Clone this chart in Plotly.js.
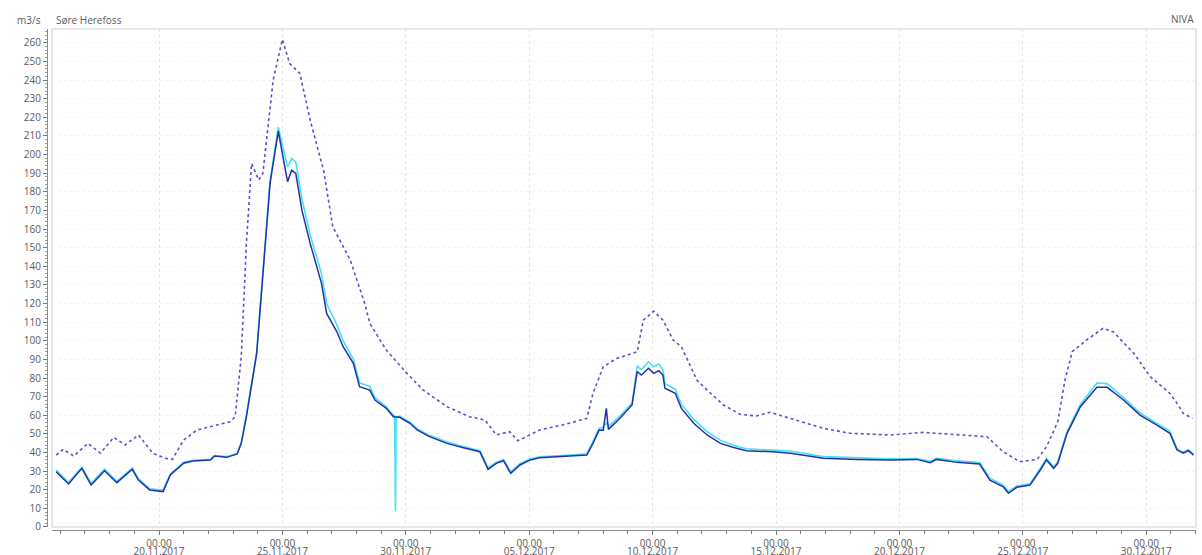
<!DOCTYPE html>
<html>
<head>
<meta charset="utf-8">
<script src="https://cdn.plot.ly/plotly-3.0.1.min.js"></script>
<style>html,body{margin:0;padding:0;background:#fff;}#chart{width:1202px;height:555px;}</style>
</head>
<body>
<div id="chart"></div>
<script>
// Upper dotted series
const dottedTimes = ['2017-11-15 20:00','2017-11-16 03:00','2017-11-16 13:00','2017-11-17 03:00','2017-11-17 15:00','2017-11-18 04:00','2017-11-18 15:00','2017-11-19 04:00','2017-11-19 18:00','2017-11-20 06:00','2017-11-20 13:00','2017-11-21 00:00','2017-11-21 13:00','2017-11-22 05:00','2017-11-22 21:00','2017-11-23 02:00','2017-11-23 08:00','2017-11-23 13:00','2017-11-23 18:00','2017-11-24 01:00','2017-11-24 05:00','2017-11-24 15:00','2017-11-25 00:00','2017-11-25 07:00','2017-11-25 14:00','2017-11-25 17:00','2017-11-26 03:00','2017-11-26 16:00','2017-11-27 01:00','2017-11-27 18:00','2017-11-28 08:00','2017-11-28 13:00','2017-11-29 05:00','2017-11-30 01:00','2017-11-30 17:00','2017-12-01 16:00','2017-12-02 14:00','2017-12-03 05:00','2017-12-03 16:00','2017-12-04 05:00','2017-12-04 13:00','2017-12-05 10:00','2017-12-06 10:00','2017-12-07 08:00','2017-12-07 14:00','2017-12-08 00:00','2017-12-08 13:00','2017-12-09 09:00','2017-12-09 15:00','2017-12-10 01:00','2017-12-10 10:00','2017-12-10 20:00','2017-12-11 04:00','2017-12-11 19:00','2017-12-12 05:00','2017-12-12 21:00','2017-12-13 13:00','2017-12-14 05:00','2017-12-14 18:00','2017-12-15 14:00','2017-12-16 22:00','2017-12-18 00:00','2017-12-19 15:00','2017-12-20 23:00','2017-12-22 08:00','2017-12-23 13:00','2017-12-24 05:00','2017-12-24 21:00','2017-12-25 14:00','2017-12-25 23:00','2017-12-26 10:00','2017-12-26 17:00','2017-12-27 00:00','2017-12-27 14:00','2017-12-28 06:00','2017-12-28 16:00','2017-12-29 12:00','2017-12-30 04:00','2017-12-30 23:00','2017-12-31 06:00','2017-12-31 12:00','2017-12-31 21:00'];
const dottedVals = [38.6,41.7,38.1,44.9,39.6,48.1,44.0,49.4,39.6,36.9,36.3,46.7,52.1,54.2,56.5,59.2,91.4,152.3,195.2,186.3,189.9,239.9,261.8,248.9,245.3,243.5,218.5,191.6,161.2,143.3,120.1,109.3,95.0,82.5,73.5,64.6,59.2,57.4,49.4,51.2,46.3,52.1,55.0,58.3,71.8,86.0,90.5,94.1,111.1,115.9,111.1,100.4,96.8,78.9,73.5,65.5,60.5,59.6,61.6,58.3,53.0,50.3,49.4,50.8,49.4,48.5,40.4,35.1,36.3,43.1,56.5,78.9,94.1,100.4,106.7,104.8,93.2,80.7,71.8,66.4,61.0,58.3];

// Dark blue series
const darkTimes = ['2017-11-15 20:00','2017-11-16 08:00','2017-11-16 21:00','2017-11-17 06:00','2017-11-17 19:00','2017-11-18 07:00','2017-11-18 22:00','2017-11-19 04:00','2017-11-19 15:00','2017-11-20 04:00','2017-11-20 11:00','2017-11-21 00:00','2017-11-21 09:00','2017-11-22 02:00','2017-11-22 06:00','2017-11-22 18:00','2017-11-23 04:00','2017-11-23 08:00','2017-11-23 13:00','2017-11-23 23:00','2017-11-24 12:00','2017-11-24 20:00','2017-11-25 05:00','2017-11-25 09:00','2017-11-25 13:00','2017-11-25 19:00','2017-11-26 03:00','2017-11-26 14:00','2017-11-26 19:00','2017-11-27 05:00','2017-11-27 11:00','2017-11-27 21:00','2017-11-28 03:00','2017-11-28 13:00','2017-11-28 18:00','2017-11-29 05:00','2017-11-29 12:00','2017-11-29 18:00','2017-11-30 04:00','2017-11-30 11:00','2017-11-30 23:00','2017-12-01 16:00','2017-12-02 08:00','2017-12-03 00:00','2017-12-03 08:00','2017-12-03 16:00','2017-12-03 23:00','2017-12-04 06:00','2017-12-04 15:00','2017-12-05 01:00','2017-12-05 10:00','2017-12-06 08:00','2017-12-07 08:00','2017-12-07 14:00','2017-12-07 20:00','2017-12-08 00:00','2017-12-08 03:00','2017-12-08 05:00','2017-12-08 16:00','2017-12-09 04:00','2017-12-09 09:00','2017-12-09 13:00','2017-12-09 20:00','2017-12-10 01:00','2017-12-10 06:00','2017-12-10 10:00','2017-12-10 12:00','2017-12-10 22:00','2017-12-11 04:00','2017-12-11 16:00','2017-12-12 05:00','2017-12-12 18:00','2017-12-13 06:00','2017-12-13 19:00','2017-12-14 21:00','2017-12-15 14:00','2017-12-16 22:00','2017-12-18 07:00','2017-12-19 15:00','2017-12-20 17:00','2017-12-21 06:00','2017-12-21 12:00','2017-12-22 08:00','2017-12-23 06:00','2017-12-23 16:00','2017-12-24 05:00','2017-12-24 10:00','2017-12-24 18:00','2017-12-25 07:00','2017-12-25 17:00','2017-12-25 23:00','2017-12-26 06:00','2017-12-26 10:00','2017-12-26 19:00','2017-12-27 08:00','2017-12-28 00:00','2017-12-28 10:00','2017-12-29 02:00','2017-12-29 18:00','2017-12-30 10:00','2017-12-30 23:00','2017-12-31 06:00','2017-12-31 12:00','2017-12-31 17:00','2017-12-31 22:00'];
const darkVals = [29.7,23.1,31.5,22.5,30.2,23.8,31.0,25.2,19.9,19.0,27.9,34.2,35.4,36.0,38.1,37.4,39.2,44.9,59.2,93.2,184.5,212.5,185.4,191.6,189.9,170.0,152.3,130.8,114.7,104.8,96.8,87.9,75.3,73.5,68.2,63.7,59.2,58.9,55.7,52.1,48.5,44.9,42.6,40.4,31.0,34.2,35.6,28.8,33.3,36.0,37.2,37.8,38.6,44.9,52.1,52.0,63.7,52.4,58.3,65.5,83.4,81.6,85.2,82.5,83.9,81.6,74.5,71.8,63.7,55.7,49.4,44.9,42.8,41.0,40.4,39.6,36.9,36.3,36.0,36.3,34.5,36.3,34.7,33.8,25.2,21.6,18.1,21.3,22.5,30.6,36.0,31.5,34.2,50.3,64.6,75.0,75.0,68.2,60.1,54.8,50.3,41.3,39.6,41.0,38.6];

// Cyan series
const cyanTimes = ['2017-11-15 20:00','2017-11-16 08:00','2017-11-16 21:00','2017-11-17 06:00','2017-11-17 19:00','2017-11-18 07:00','2017-11-18 22:00','2017-11-19 04:00','2017-11-19 15:00','2017-11-20 04:00','2017-11-20 11:00','2017-11-21 00:00','2017-11-21 09:00','2017-11-22 02:00','2017-11-22 06:00','2017-11-22 18:00','2017-11-23 04:00','2017-11-23 08:00','2017-11-23 13:00','2017-11-23 23:00','2017-11-24 12:00','2017-11-24 20:00','2017-11-25 05:00','2017-11-25 09:00','2017-11-25 13:00','2017-11-25 19:00','2017-11-26 03:00','2017-11-26 14:00','2017-11-26 19:00','2017-11-27 05:00','2017-11-27 11:00','2017-11-27 21:00','2017-11-28 03:00','2017-11-28 13:00','2017-11-28 18:00','2017-11-29 05:00','2017-11-29 12:00','2017-11-29 13:00','2017-11-29 13:30','2017-11-29 14:00','2017-11-29 14:30','2017-11-29 18:00','2017-11-30 04:00','2017-11-30 11:00','2017-11-30 23:00','2017-12-01 16:00','2017-12-02 08:00','2017-12-03 00:00','2017-12-03 08:00','2017-12-03 16:00','2017-12-03 23:00','2017-12-04 06:00','2017-12-04 15:00','2017-12-05 01:00','2017-12-05 10:00','2017-12-06 08:00','2017-12-07 08:00','2017-12-07 14:00','2017-12-07 20:00','2017-12-08 00:00','2017-12-08 03:00','2017-12-08 05:00','2017-12-08 16:00','2017-12-09 04:00','2017-12-09 09:00','2017-12-09 13:00','2017-12-09 20:00','2017-12-10 01:00','2017-12-10 06:00','2017-12-10 10:00','2017-12-10 12:00','2017-12-10 22:00','2017-12-11 04:00','2017-12-11 16:00','2017-12-12 05:00','2017-12-12 18:00','2017-12-13 06:00','2017-12-13 19:00','2017-12-14 21:00','2017-12-15 14:00','2017-12-16 22:00','2017-12-18 07:00','2017-12-19 15:00','2017-12-20 17:00','2017-12-21 06:00','2017-12-21 12:00','2017-12-22 08:00','2017-12-23 06:00','2017-12-23 16:00','2017-12-24 05:00','2017-12-24 10:00','2017-12-24 18:00','2017-12-25 07:00','2017-12-25 17:00','2017-12-25 23:00','2017-12-26 06:00','2017-12-26 10:00','2017-12-26 19:00','2017-12-27 08:00','2017-12-28 00:00','2017-12-28 10:00','2017-12-29 02:00','2017-12-29 18:00','2017-12-30 10:00','2017-12-30 23:00','2017-12-31 06:00','2017-12-31 12:00','2017-12-31 17:00','2017-12-31 22:00'];
const cyanVals = [30.5,24.0,32.0,23.5,31.0,24.5,31.5,26.0,20.5,19.8,28.5,34.8,35.8,36.3,38.3,37.8,39.5,45.5,60.0,94.0,186.0,214.7,193.4,197.9,196.0,176.0,157.0,136.0,120.0,108.5,100.0,90.0,77.5,75.5,69.5,64.5,60.0,59.8,35.0,8.5,59.0,59.5,56.3,52.8,49.2,45.6,43.2,41.0,31.8,34.8,36.2,29.6,34.0,36.6,37.7,38.3,39.2,45.8,53.0,53.5,56.0,54.0,59.5,66.5,86.5,84.5,88.7,86.0,87.5,84.5,77.0,74.0,65.8,57.8,51.2,46.5,44.0,42.0,41.5,40.8,37.8,37.0,36.6,36.8,35.3,36.9,35.5,34.6,26.2,22.5,19.0,22.0,23.2,31.5,36.8,32.3,35.0,51.2,65.8,77.3,77.0,69.5,61.2,55.8,51.5,42.0,40.2,41.6,39.0];

const unitLabel = 'm3/s';
const stationLabel = 'Søre Herefoss';
const sourceLabel = 'NIVA';

const xRange = ['2017-11-15 16:00', '2018-01-01 00:24'];
const yRange = [0, 267.4];
const FONT = 'Open Sans, Noto Sans, sans-serif';
const TXT = '#5a5a5a';

const traces = [
  {x: dottedTimes, y: dottedVals, type: 'scatter', mode: 'lines',
   line: {color: '#5b52c9', width: 1.6, dash: 'dot'}},
  {x: cyanTimes, y: cyanVals, type: 'scatter', mode: 'lines',
   line: {color: '#45e3ef', width: 1.6}},
  {x: darkTimes, y: darkVals, type: 'scatter', mode: 'lines',
   line: {color: '#2431a8', width: 1.5}},
  // empty trace so the date-label axis is drawn
  {x: xRange, y: [null, null], xaxis: 'x2', yaxis: 'y', type: 'scatter', mode: 'lines', showlegend: false}
];

const layout = {
  width: 1202, height: 555,
  margin: {l: 47, r: 6, t: 29, b: 25, pad: 0},
  paper_bgcolor: '#ffffff', plot_bgcolor: '#ffffff',
  showlegend: false,
  font: {family: FONT, size: 10, color: TXT},
  xaxis: {
    type: 'date', range: xRange, domain: [0.0044, 1],
    anchor: 'free', position: 0,
    tick0: '2017-11-20', dtick: 5 * 86400000,
    tickformat: '%H.%M',
    ticks: 'outside', ticklen: 4, tickcolor: '#777', tickwidth: 1,
    tickfont: {family: FONT, size: 10, color: TXT},
    showline: true, linecolor: '#8a8a8a', linewidth: 1,
    showgrid: true, gridcolor: '#e3e3e3', griddash: 'dot', gridwidth: 1,
    zeroline: false,
    minor: {dtick: 86400000, tick0: '2017-11-20', ticks: 'outside', ticklen: 3, tickcolor: '#777', showgrid: false}
  },
  xaxis2: {
    type: 'date', range: xRange, domain: [0.0044, 1], overlaying: 'x',
    anchor: 'free', position: 0, side: 'bottom',
    tick0: '2017-11-20', dtick: 5 * 86400000,
    tickformat: '%d.%m.%Y',
    ticks: 'outside', ticklen: 12, tickcolor: 'rgba(0,0,0,0)',
    tickfont: {family: FONT, size: 10, color: TXT},
    showline: false, showgrid: false, zeroline: false
  },
  yaxis: {
    range: yRange, domain: [0.006, 1],
    anchor: 'free', position: 0,
    tick0: 0, dtick: 10,
    ticks: 'outside', ticklen: 4, tickcolor: '#777',
    tickfont: {family: FONT, size: 10, color: TXT},
    showline: true, linecolor: '#8a8a8a', linewidth: 1,
    showgrid: true, gridcolor: '#f3f3f3', griddash: 'dot',
    zeroline: false,
    minor: {dtick: 2, ticks: 'outside', ticklen: 2, tickcolor: '#999', showgrid: false}
  },
  shapes: [
    {type: 'rect', xref: 'x domain', yref: 'y domain', x0: 0, x1: 1, y0: 0, y1: 1,
     line: {color: '#cfcfcf', width: 1}, fillcolor: 'rgba(0,0,0,0)', layer: 'above'}
  ],
  annotations: [
    {text: unitLabel, xref: 'paper', yref: 'paper', x: -0.028, y: 1, yshift: 9,
     xanchor: 'left', yanchor: 'middle', showarrow: false,
     font: {family: FONT, size: 10, color: TXT}},
    {text: stationLabel, xref: 'paper', yref: 'paper', x: 0.0065, y: 1, yshift: 9,
     xanchor: 'left', yanchor: 'middle', showarrow: false,
     font: {family: FONT, size: 10, color: TXT}},
    {text: sourceLabel, xref: 'paper', yref: 'paper', x: 1, y: 1, yshift: 10,
     xanchor: 'right', yanchor: 'middle', showarrow: false,
     font: {family: FONT, size: 10, color: TXT}}
  ]
};

Plotly.newPlot('chart', traces, layout, {displayModeBar: false, staticPlot: true});
</script>
</body>
</html>
